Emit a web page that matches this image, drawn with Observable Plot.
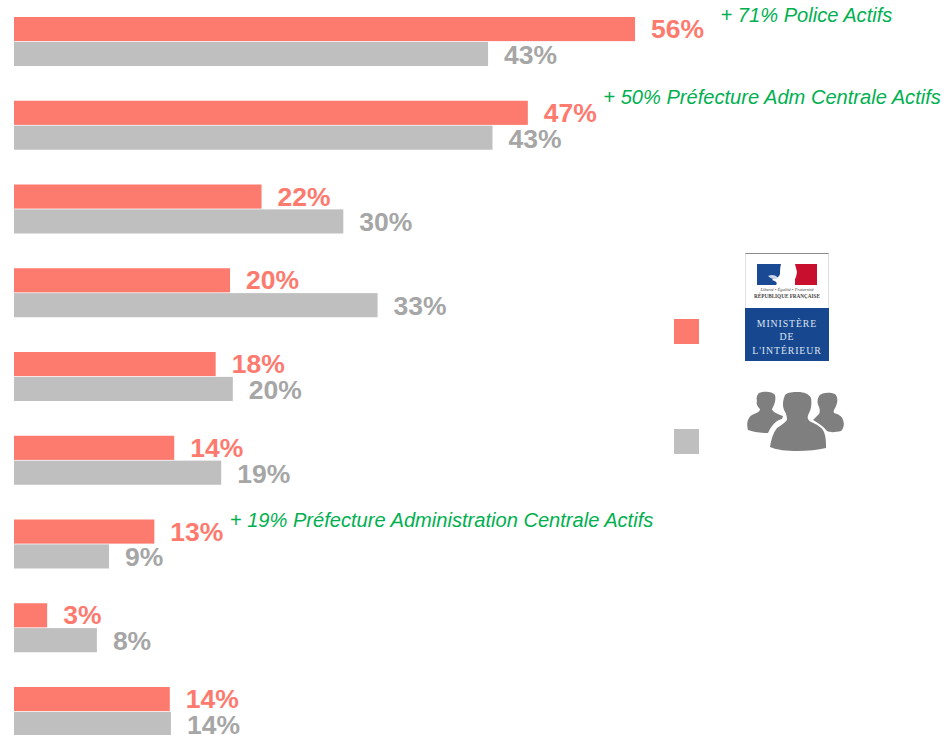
<!DOCTYPE html>
<html lang="fr">
<head>
<meta charset="utf-8">
<script src="https://cdn.jsdelivr.net/npm/d3@7"></script>
<script src="https://cdn.jsdelivr.net/npm/@observablehq/plot@0.6"></script>
<style>
html,body{margin:0;padding:0;background:#fff;overflow:hidden;width:943px;height:735px}
#wrap{position:relative;width:943px;height:735px;overflow:hidden}
#wrap svg{display:block}
#legend{position:absolute;left:0;top:0}
</style>
</head>
<body>
<div id="wrap"></div>
<script>
const rows = ["1","2","3","4","5","6","7","8","9"];
const ministereValues = [56.2,46.5,22.4,19.55,18.25,14.5,12.7,3.0,14.1];
const agentsValues    = [42.9,43.3,29.8,32.9,19.8,18.75,8.6,7.5,14.2];
const ministereLabels = ["56%","47%","22%","20%","18%","14%","13%","3%","14%"];
const agentsLabels    = ["43%","43%","30%","33%","20%","19%","9%","8%","14%"];
const seriesNames = ["Ministère","Agents"];
const seriesColors = ["#FD7A6F","#BFBFBF"];
const labelColors = ["#FD7A6F","#A6A6A6"];
const notes = [
  {row:"1", value:56.2, text:"+ 71% Police Actifs"},
  {row:"2", value:46.5, text:"+ 50% Préfecture Adm Centrale Actifs"},
  {row:"7", value:12.7, text:"+ 19% Préfecture Administration Centrale Actifs"}
];

const table = rows.flatMap((row,i)=>[
  {row, series:seriesNames[0], value:ministereValues[i], label:ministereLabels[i]},
  {row, series:seriesNames[1], value:agentsValues[i], label:agentsLabels[i]}
]);

const noteMark = (row, dx, dy) => Plot.text(notes.filter(n=>n.row===row), {
  x:"value", y:()=>seriesNames[0], fy:"row", text:"text", dx, dy,
  textAnchor:"start", fill:"#00B050", fontSize:20.1, fontStyle:"italic",
  fontFamily:"Liberation Sans, Arial, sans-serif"
});

const labelMark = (i, dy) => Plot.text(table.filter(d=>d.series===seriesNames[i]), {
  x:"value", y:"series", fy:"row", text:"label", dx:15.5, dy,
  textAnchor:"start", fontSize:26.5, fontWeight:"bold",
  fontFamily:"Liberation Sans, Arial, sans-serif",
  fill:labelColors[i]
});

const chart = Plot.plot({
  width:943, height:735,
  marginLeft:14, marginRight:0, marginTop:17, marginBottom:-1,
  style:{background:"#fff", overflow:"hidden"},
  x:{axis:null, domain:[0,84.07]},
  y:{axis:null, domain:seriesNames, paddingInner:0.03, paddingOuter:0, round:false},
  fy:{axis:null, domain:rows, paddingInner:0.415, paddingOuter:0, round:false},
  color:{domain:seriesNames, range:seriesColors},
  marks:[
    Plot.barX(table,{x:"value", y:"series", fy:"row", fill:"series"}),
    labelMark(0,0),
    labelMark(1,1),
    noteMark("1",85,-14),
    noteMark("2",75,-15.5),
    noteMark("7",75,-12)
  ]
});
document.getElementById("wrap").append(chart);

const legendSvg = `
<svg id="legend" xmlns="http://www.w3.org/2000/svg" width="943" height="735" viewBox="0 0 943 735">
  <rect x="674" y="319" width="25" height="25" fill="${seriesColors[0]}"/>
  <rect x="674" y="429" width="25" height="25" fill="${seriesColors[1]}"/>
  <rect x="745" y="253" width="84" height="108" fill="#fff"/>
  <rect x="745" y="253" width="84" height="1" fill="#8a8a8a"/>
  <rect x="745" y="253" width="0.6" height="55" fill="#ccc"/>
  <rect x="828.4" y="253" width="0.6" height="55" fill="#ccc"/>
  <rect x="745" y="308" width="84" height="53" fill="#17478F"/>
  <rect x="757" y="264" width="27" height="21" fill="#1B4A94"/>
  <rect x="795" y="264" width="22" height="21" fill="#C8102E"/>
  <path d="M781 264 L795 264 L797 272 L796 277 L792 285 L776 285 C778 283 776 281 772 280 L774 278 C777 278 779 277 780 274 C780 271 780 268 781 264Z" fill="#fff"/>
  <path d="M768 276 C772 274 776 275 778 278 C775 280 771 279 768 276Z" fill="#c9d4e8"/>
  <text x="787" y="290.5" text-anchor="middle" font-family="Liberation Serif,serif" font-style="italic" font-size="4.6" fill="#444">Liberté • Égalité • Fraternité</text>
  <text x="787" y="298" text-anchor="middle" font-family="Liberation Serif,serif" font-weight="bold" font-size="5.2" fill="#444">RÉPUBLIQUE FRANÇAISE</text>
  <g font-family="Liberation Serif,serif" font-size="9.8" fill="#DCE5F2" text-anchor="middle" letter-spacing="0.9">
    <text x="787" y="326.5">MINISTÈRE</text>
    <text x="787" y="340">DE</text>
    <text x="787" y="353.5">L'INTÉRIEUR</text>
  </g>
  <g fill="#7F7F7F">
    <path d="M759 393 C764 391 772 391 775 395 C776 399 775 402 774 405 L772 409 C772 411 775 413 783 416 L782 419 C777 420 773 424 770 429 L768 433 C761 433 753 432 748 430 C746 424 748 417 752 415 C756 413 760 412 760 409 C757 406 756 403 757 401 C756 398 757 395 759 393Z"/>
    <path d="M819 396 C822 392 830 392 835 394 C838 397 838 402 836 406 C835 409 833 410 834 413 C838 414 842 416 843 420 C845 425 843 429 841 431 C836 432 831 433 827 431 C823 426 818 423 813 420 L819 414 C820 412 820 410 819 407 C817 403 817 400 819 396Z"/>
    <path d="M785 395 C788 392 793 392 798 392 C804 392 809 394 811 398 C812 404 811 410 809 413 C807 417 807 419 811 422 C816 424 822 427 824 432 C826 437 826 442 826 448 C818 450 808 451 797 451 C787 451 777 450 770 447 C771 440 773 433 777 428 C781 425 785 423 787 420 C787 416 786 413 784 410 C782 405 783 400 785 395Z"/>
  </g>
</svg>`;
document.getElementById("wrap").insertAdjacentHTML("beforeend", legendSvg);
</script>
</body>
</html>
